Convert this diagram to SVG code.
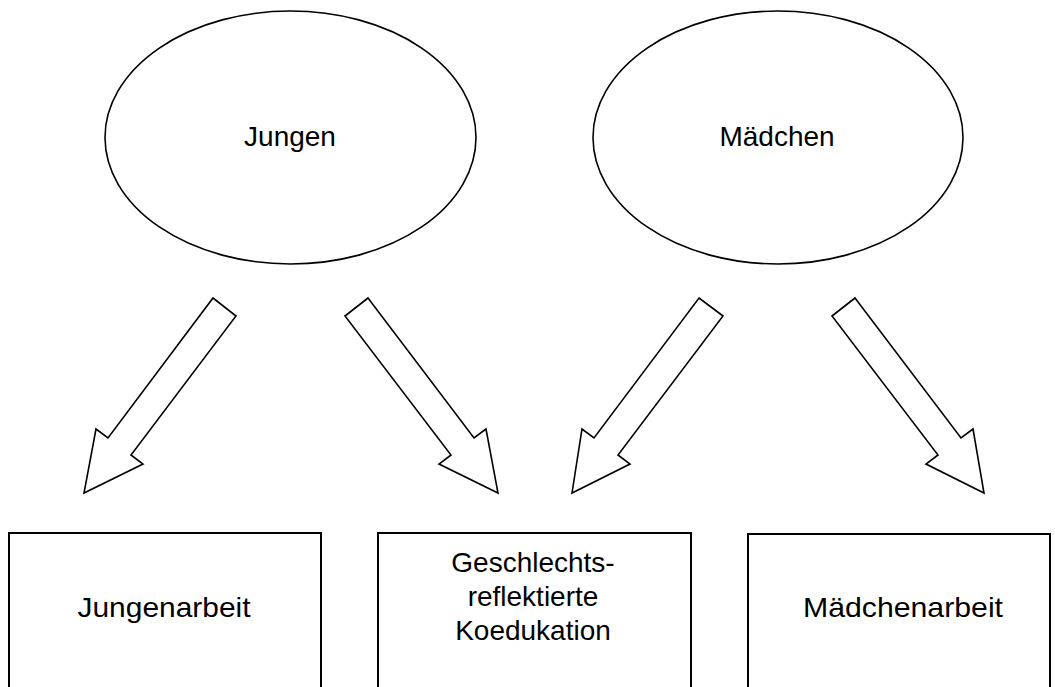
<svg xmlns="http://www.w3.org/2000/svg" width="1055" height="687" viewBox="0 0 1055 687">
<style>
  .shape { fill: #ffffff; stroke: #000000; stroke-width: 1.6; }
  .box { fill: #ffffff; stroke: #000000; stroke-width: 2; }
  .arrow { fill: #ffffff; stroke: #000000; stroke-width: 1.6; stroke-linejoin: miter; }
  .lbl { font-family: "Liberation Sans", Arial, sans-serif; font-size: 28px; fill: #000000; text-anchor: middle; }
</style>
<rect x="0" y="0" width="1055" height="687" fill="#ffffff"/>
<g id="node-jungen">
  <ellipse class="shape" cx="290.5" cy="137.5" rx="185.5" ry="126.5"/>
  <text class="lbl" x="290" y="146">Jungen</text>
</g>
<g id="node-maedchen">
  <ellipse class="shape" cx="778" cy="137.5" rx="185" ry="126.5"/>
  <text class="lbl" x="777" y="146">Mädchen</text>
</g>
<g id="node-jungenarbeit">
  <rect class="box" x="9" y="533" width="312" height="170"/>
  <text class="lbl" x="164" y="617" textLength="173" lengthAdjust="spacingAndGlyphs">Jungenarbeit</text>
</g>
<g id="node-koedukation">
  <rect class="box" x="378" y="533" width="313" height="170"/>
  <text class="lbl" x="533" y="572">Geschlechts-</text>
  <text class="lbl" x="533" y="606">reflektierte</text>
  <text class="lbl" x="533" y="640">Koedukation</text>
</g>
<g id="node-maedchenarbeit">
  <rect class="box" x="748" y="534" width="302" height="170"/>
  <text class="lbl" x="903" y="617" textLength="200" lengthAdjust="spacingAndGlyphs">Mädchenarbeit</text>
</g>
<g id="connectors">
  <polygon class="arrow" points="213,298 236,316 131,455 143,464 84,493 96,429 108,438"/>
  <polygon class="arrow" points="368,298 474,438 486,429 498,493 439,464 451,455 345,316"/>
  <polygon class="arrow" points="699,298 723,316 618,455 630,464 572,493 582,429 594,438"/>
  <polygon class="arrow" points="855,298 961,438 973,429 984,493 926,464 938,455 832,316"/>
</g>
</svg>
